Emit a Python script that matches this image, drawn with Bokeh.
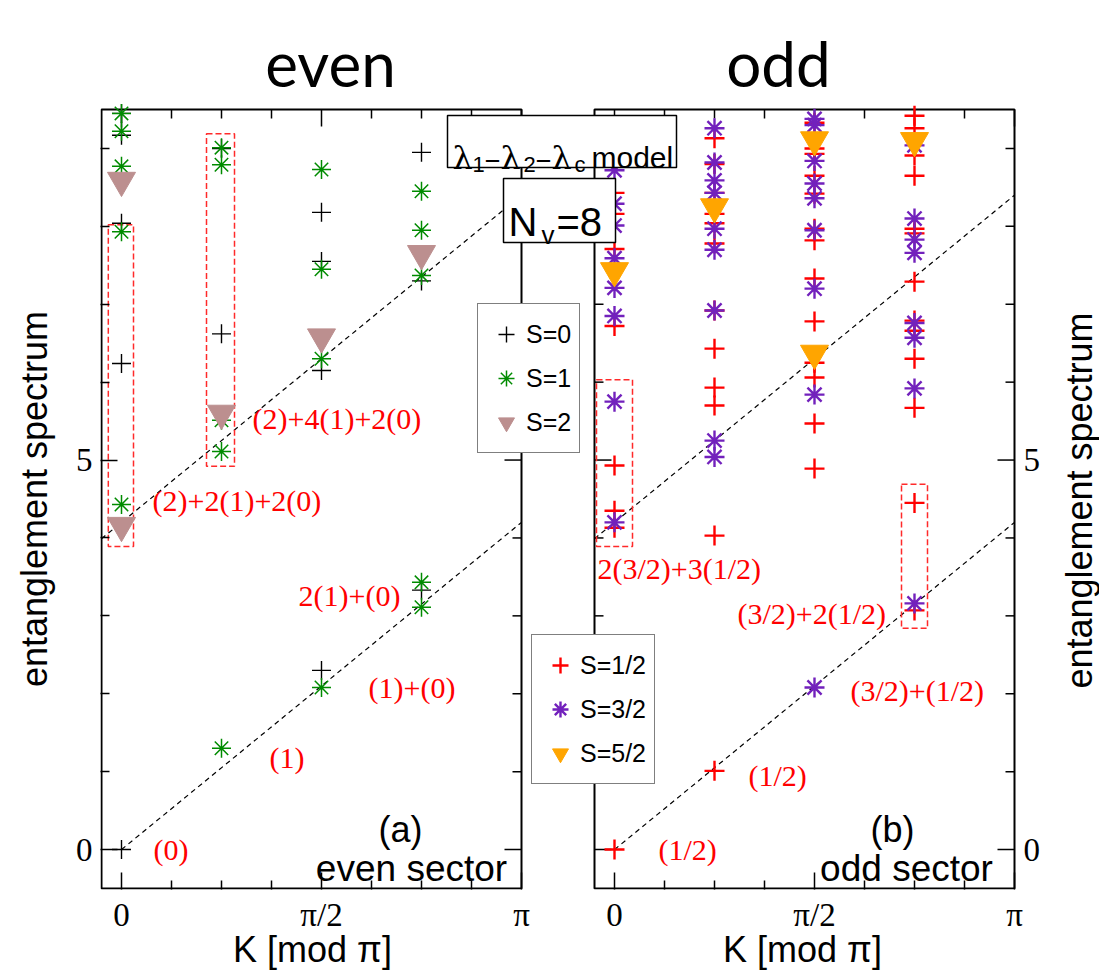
import math
from bokeh.plotting import figure
from bokeh.models import (Range1d, LinearAxis, FixedTicker, Label, Legend,
                          LegendItem, BoxAnnotation)
from bokeh.embed import file_html
from bokeh.resources import INLINE

# ---------------- data: K in units of pi, entanglement spectrum levels ----------------
# even sector
even_s0_k = [0, 0, 0, 0, 0, 0.25, 0.25, 0.5, 0.5, 0.5, 0.5, 0.75, 0.75, 0.75]
even_s0_y = [0.0, 6.24, 8.04, 9.17, 9.45, 6.62, 9.00, 2.30, 6.15, 7.55, 8.18, 3.33, 7.30, 8.95]

even_s1_k = [0, 0, 0, 0, 0, 0.25, 0.25, 0.25, 0.25, 0.25, 0.5, 0.5, 0.5, 0.5,
             0.75, 0.75, 0.75, 0.75, 0.75]
even_s1_y = [4.43, 7.93, 8.77, 9.22, 9.45, 1.30, 5.11, 5.51, 8.79, 9.01, 2.08, 6.30, 7.45, 8.73,
             3.11, 3.43, 7.37, 7.95, 8.45]

even_s2_k = [0, 0, 0.25, 0.5, 0.75]
even_s2_y = [4.16, 8.59, 5.60, 6.58, 7.65]

# odd sector
odd_s12_k = [0, 0, 0, 0, 0, 0, 0, 0,
             0.25, 0.25, 0.25, 0.25, 0.25, 0.25, 0.25, 0.25, 0.25, 0.25, 0.25, 0.25,
             0.5, 0.5, 0.5, 0.5, 0.5, 0.5, 0.5, 0.5, 0.5, 0.5, 0.5, 0.5, 0.5,
             0.75, 0.75, 0.75, 0.75, 0.75, 0.75, 0.75, 0.75, 0.75, 0.75, 0.75, 0.75, 0.75]
odd_s12_y = [0.0, 4.13, 4.35, 4.93, 6.72, 7.71, 8.16, 8.43,
             1.01, 4.03, 5.70, 5.93, 6.43, 6.92, 7.78, 8.04, 8.16, 8.43, 8.80, 9.13,
             4.89, 5.47, 6.06, 6.25, 6.78, 7.33, 7.82, 7.97, 8.42, 8.65, 8.93, 9.00, 9.33,
             3.07, 4.45, 5.67, 6.30, 6.66, 6.79, 7.29, 7.91, 7.97, 8.65, 8.91, 9.26, 9.42]

odd_s32_k = [0, 0, 0, 0, 0, 0, 0, 0,
             0.25, 0.25, 0.25, 0.25, 0.25, 0.25, 0.25, 0.25, 0.25,
             0.5, 0.5, 0.5, 0.5, 0.5, 0.5, 0.5, 0.5, 0.5,
             0.75, 0.75, 0.75, 0.75, 0.75, 0.75, 0.75, 0.75]
odd_s32_y = [4.20, 5.75, 6.85, 7.21, 7.59, 8.01, 8.29, 8.72,
             5.04, 5.25, 6.92, 7.70, 7.97, 8.43, 8.59, 8.82, 9.26,
             2.08, 5.84, 7.20, 7.95, 8.36, 8.55, 8.84, 9.30, 9.38,
             3.16, 5.92, 6.57, 6.76, 7.66, 7.83, 8.10, 9.04]

odd_s52_k = [0, 0.25, 0.5, 0.5, 0.75]
odd_s52_y = [7.43, 8.25, 6.37, 9.11, 9.10]

# guide lines y = slope*K + intercept
line_slope = 4.2
line_intercepts = [0.0, 4.2]
line_k_start = [0.0, -0.05]
line_k_end = [1.0, 1.0]

# dashed multiplet boxes (K range, level range)
even_box_k0 = [-0.033, 0.2125]
even_box_k1 = [0.030, 0.2825]
even_box_y0 = [3.89, 4.92]
even_box_y1 = [8.02, 9.19]
odd_box_k0 = [-0.045, 0.7175]
odd_box_k1 = [0.045, 0.7825]
odd_box_y0 = [3.89, 2.84]
odd_box_y1 = [6.03, 4.69]

# multiplet annotations (K, level, text)
even_notes_k = [0.08, 0.37, 0.6175, 0.4425, 0.0775, 0.3275]
even_notes_y = [0.0, 1.18, 2.08, 3.26, 4.48, 5.53]
even_notes_t = ["(0)", "(1)", "(1)+(0)", "2(1)+(0)", "(2)+2(1)+2(0)", "(2)+4(1)+2(0)"]
odd_notes_k = [0.11, 0.335, 0.59, 0.3075, -0.0425]
odd_notes_y = [0.0, 0.95, 2.04, 3.03, 3.61]
odd_notes_t = ["(1/2)", "(1/2)", "(3/2)+(1/2)", "(3/2)+2(1/2)", "2(3/2)+3(1/2)"]

# ticks
k_major = [0.0, 0.5, 1.0]
k_minor = [0.125, 0.25, 0.375, 0.625, 0.75, 0.875]
k_labels = ["0", "π/2", "π"]
y_major = [0, 5]
y_minor = [1, 2, 3, 4, 6, 7, 8, 9]

# ---------------- layout ----------------
ODD = 1.2325          # horizontal offset of the odd panel (K units)
KMIN, KMAX = -0.05, 1.0
YMIN, YMAX = -0.5, 9.5
PXK = 400.0           # px per K unit
PXY = 77.9            # px per level unit
PADK = 1 / PXK
PADY = 1 / PXY
W, H = 1099, 973
BL, BB = 100, 84      # left / bottom borders (frame spans to the top and right canvas edges)

x0 = KMIN - PADK
y0 = YMIN - PADY

def X(px):  # canvas px -> data x
    return KMIN + (px - 101) / PXK

def Y(py):  # canvas py -> data y
    return YMAX - (py - 109) / PXY

SANS = "Liberation Sans"
SERIF = "Liberation Serif"
GREEK = "DejaVu Serif"
AXIS_TITLE_SIZE = "36px"

p = figure(width=W, height=H,
           x_range=Range1d(x0, x0 + (W - BL) / PXK),
           y_range=Range1d(y0, y0 + (H - BB) / PXY),
           output_backend="svg", toolbar_location=None,
           min_border_left=BL, min_border_right=0,
           min_border_top=0, min_border_bottom=BB)
p.outline_line_color = None
p.grid.visible = False
p.background_fill_color = "white"

# ---- axes ----
xt = FixedTicker(ticks=k_major + [ODD + k for k in k_major],
                 minor_ticks=k_minor + [ODD + k for k in k_minor])
xlab = {}
for k, t in zip(k_major, k_labels):
    xlab[k] = t
    xlab[ODD + k] = t
yt = FixedTicker(ticks=y_major, minor_ticks=y_minor)

def style_axis(ax, standoff=8):
    ax.axis_line_color = None
    ax.major_tick_in = 17
    ax.major_tick_out = 0
    ax.minor_tick_in = 9
    ax.minor_tick_out = 0
    ax.major_tick_line_width = 1.5
    ax.minor_tick_line_width = 1.5
    ax.major_tick_line_color = "black"
    ax.minor_tick_line_color = "black"
    ax.major_label_text_font = SERIF
    ax.major_label_text_font_size = "33px"
    ax.major_label_text_color = "black"
    ax.major_label_standoff = standoff

def title_axis(ax, standoff):
    ax.axis_line_color = None
    ax.major_tick_in = 0
    ax.major_tick_out = 0
    ax.minor_tick_in = 0
    ax.minor_tick_out = 0
    ax.major_tick_line_color = None
    ax.minor_tick_line_color = None
    ax.major_label_text_font = SANS
    ax.major_label_text_font_size = AXIS_TITLE_SIZE
    ax.major_label_text_color = "black"
    ax.major_label_standoff = standoff

xb = p.xaxis[0]
xb.ticker = xt
xb.major_label_overrides = xlab
style_axis(xb, 7)

yl = p.yaxis[0]
yl.ticker = yt
style_axis(yl)

# axis titles carried by outer axes
k_title_pos = [X(312), X(802)]
xb2 = LinearAxis(ticker=FixedTicker(ticks=k_title_pos, minor_ticks=[]),
                 major_label_overrides={k: "K [mod π]" for k in k_title_pos})
title_axis(xb2, -7)
p.add_layout(xb2, "below")

y_title_pos = (YMIN + YMAX) / 2
yl2 = LinearAxis(ticker=FixedTicker(ticks=[y_title_pos], minor_ticks=[]),
                 major_label_overrides={y_title_pos: "entanglement spectrum"},
                 major_label_orientation="parallel")
title_axis(yl2, 18)
p.add_layout(yl2, "left")

# ticks on the inner/top/right panel edges
def edge_ticks(xs, ys, ang, length):
    p.ray(x=xs, y=ys, length=length, length_units="screen", angle=ang,
          line_color="black", line_width=1.5)

for xe, ang in ((KMAX, math.pi), (ODD + KMIN, 0.0), (ODD + KMAX, math.pi)):
    edge_ticks([xe] * len(y_major), y_major, ang, 17)
    edge_ticks([xe] * len(y_minor), y_minor, ang, 9)
top_major = k_major + [ODD + k for k in k_major]
top_minor = k_minor + [ODD + k for k in k_minor]
edge_ticks(top_major, [YMAX] * len(top_major), -math.pi / 2, 17)
edge_ticks(top_minor, [YMAX] * len(top_minor), -math.pi / 2, 9)

# panel frames
p.quad(left=[KMIN, ODD + KMIN], right=[KMAX, ODD + KMAX], bottom=[YMIN, YMIN],
       top=[YMAX, YMAX], fill_color=None, line_color="black", line_width=2)

# dashed guide lines
for off in (0.0, ODD):
    xs, ys = [], []
    for b, k0, k1 in zip(line_intercepts, line_k_start, line_k_end):
        xs.append([off + k0, off + k1])
        ys.append([b + line_slope * k0, b + line_slope * k1])
    p.multi_line(xs, ys, line_color="black", line_dash="5 4", line_width=1.2)

# dashed boxes
p.quad(left=even_box_k0, right=even_box_k1, bottom=even_box_y0, top=even_box_y1,
       fill_color=None, line_color="#ff2a2a", line_dash="6 3", line_width=1.5)
p.quad(left=[ODD + k for k in odd_box_k0], right=[ODD + k for k in odd_box_k1],
       bottom=odd_box_y0, top=odd_box_y1,
       fill_color=None, line_color="#ff2a2a", line_dash="6 3", line_width=1.5)

# data markers
r_e0 = p.scatter(even_s0_k, even_s0_y, marker="cross", size=19,
                 line_color="black", line_width=1.4)
r_e1 = p.scatter(even_s1_k, even_s1_y, marker="asterisk", size=19,
                 line_color="#008b00", line_width=1.5)
r_e2 = p.scatter(even_s2_k, even_s2_y, marker="inverted_triangle", size=28,
                 fill_color="#bc8f8f", line_color="#bc8f8f")
r_o1 = p.scatter([ODD + k for k in odd_s12_k], odd_s12_y, marker="cross", size=20,
                 line_color="#ff0000", line_width=2.4)
r_o3 = p.scatter([ODD + k for k in odd_s32_k], odd_s32_y, marker="asterisk", size=20,
                 line_color="#7221bc", line_width=2.4)
r_o5 = p.scatter([ODD + k for k in odd_s52_k], odd_s52_y, marker="inverted_triangle", size=28,
                 fill_color="#ffa500", line_color="#ffa500")

# right-panel level labels
for yv in y_major:
    p.add_layout(Label(x=X(1023), y=yv, text=str(yv), text_align="left", text_baseline="middle",
                       text_font=SERIF, text_font_size="33px", text_color="black"))

# multiplet annotations
for off, ks, ys, ts in ((0.0, even_notes_k, even_notes_y, even_notes_t),
                        (ODD, odd_notes_k, odd_notes_y, odd_notes_t)):
    for k, y, t in zip(ks, ys, ts):
        p.add_layout(Label(x=off + k, y=y, text=t, text_align="left", text_baseline="middle",
                           text_font=SERIF, text_font_size="30px", text_color="#ff0000"))

# legends
leg_common = dict(border_line_color="black", border_line_width=1.3,
                  background_fill_color="white", background_fill_alpha=1.0,
                  label_text_font=SANS, label_text_font_size="25px", label_text_color="black",
                  glyph_width=40, glyph_height=44, label_height=44,
                  padding=8, label_standoff=0, margin=0)
leg_even = Legend(items=[LegendItem(label="S=0", renderers=[r_e0]),
                         LegendItem(label="S=1", renderers=[r_e1]),
                         LegendItem(label="S=2", renderers=[r_e2])],
                  location=(377, 436), spacing=-3, **leg_common)
leg_odd = Legend(items=[LegendItem(label="S=1/2", renderers=[r_o1]),
                        LegendItem(label="S=3/2", renderers=[r_o3]),
                        LegendItem(label="S=5/2", renderers=[r_o5])],
                 location=(431, 105), spacing=-5, **leg_common)
p.add_layout(leg_even, "center")
p.add_layout(leg_odd, "center")

# model / size boxes
for l, r, t, b in ((447, 676, 115, 167), (503, 615, 178, 242)):
    p.add_layout(BoxAnnotation(left=X(l), right=X(r), top=Y(t), bottom=Y(b),
                               fill_color="white", fill_alpha=1.0,
                               line_color="black", line_alpha=1.0, line_width=1.5))

def lab(px, py, text, font, size, align="left", baseline="alphabetic", color="black", angle=0.0):
    p.add_layout(Label(x=X(px), y=Y(py), text=text, text_font=font, text_font_size=size,
                       text_align=align, text_baseline=baseline, text_color=color, angle=angle))

# λ1-λ2-λc model
lab(452, 157, "λ", GREEK, "32px")
lab(472, 164, "1", SANS, "22px")
lab(484, 157, "–λ", GREEK, "32px")
lab(523, 164, "2", SANS, "22px")
lab(535, 157, "–λ", GREEK, "32px")
lab(574, 164, "c", SANS, "22px")
lab(591, 157, "model", SANS, "30px")
# Nv=8
lab(508, 221, "N", SANS, "40px")
lab(541, 234, "v", SANS, "26px")
lab(556, 221, "=8", SANS, "40px")

# panel tags
lab(400, 829, "(a)", SANS, "36px", align="center")
lab(411, 868, "even sector", SANS, "37px", align="center")
lab(892, 829, "(b)", SANS, "36px", align="center")
lab(906, 868, "odd sector", SANS, "37px", align="center")

# titles
lab(330, 62, "even", "Lato", "62px", align="center")
lab(778, 62, "odd", "Lato", "62px", align="center")

# right axis title
lab(1079, 500, "entanglement spectrum", SANS, AXIS_TITLE_SIZE, align="center", baseline="middle",
    angle=math.pi / 2)

open("out.html", "w").write(file_html(p, INLINE))
